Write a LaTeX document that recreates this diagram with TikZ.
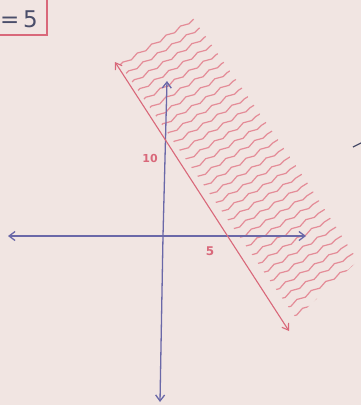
\documentclass[tikz,border=0pt]{standalone}
\usepackage{fontspec}
\setmainfont{DejaVu Sans}
\usetikzlibrary{arrows.meta,decorations.pathmorphing}
\definecolor{paper}{HTML}{F1E5E2}
\definecolor{pen}{HTML}{D9687A}
\definecolor{hatchc}{HTML}{E48C98}
\definecolor{axisc}{HTML}{6A68A8}
\definecolor{ink}{HTML}{4A4E6A}
\tikzset{
  axis/.style={draw=axisc, line width=1.3pt, -{Straight Barb[length=6pt,width=9pt]}},
  bound/.style={draw=pen, line width=1.1pt, {Straight Barb[length=6pt,width=8pt]}-{Straight Barb[length=6pt,width=8pt]}},
  hatch/.style={draw=hatchc, line width=1.2pt, line cap=round, decorate, decoration={snake, amplitude=1.3pt, segment length=17pt}},
  lab/.style={text=pen, font=\bfseries\fontsize{10}{10}\selectfont, inner sep=0pt},
}
\begin{document}
\begin{tikzpicture}[x=1pt,y=-1pt]
\useasboundingbox (0,0) rectangle (361,405);
\fill[paper] (0,0) rectangle (361,405);
% top-left boxed fragment
\draw[pen, line width=1.6pt] (-5,-5) -- (47,-5) -- (47,35) -- (-5,35);
\node[text=ink, font=\fontsize{23}{23}\selectfont, inner sep=0pt] (eq) at (19,19) {=\,5};
% hatched half-plane
\begin{scope}
  \clip (119,63) -- (190,14) -- (361,258) -- (296,318) -- cycle;
  \foreach \i in {0,...,30}{
    \draw[hatch] ({119+5.7*\i},{66+8.8*\i}) -- ++(80,-50);
  }
\end{scope}
% axes
\coordinate (O) at (163,236);
\coordinate (xl) at (8,236);
\coordinate (xr) at (306,236);
\coordinate (yt) at (167,81);
\coordinate (yb) at (160,402);
\draw[axis] (O) -- (xl);
\draw[axis] (O) -- (xr);
\draw[axis] (O) -- (yt);
\draw[axis] (O) -- (yb);
% boundary line
\coordinate (la) at (115,62);
\coordinate (lb) at (289,331);
\draw[bound] (la) -- (lb);
% labels
\node[lab, font=\bfseries\fontsize{11}{11}\selectfont] (ten) at (150,158) {10};
\node[lab, font=\bfseries\fontsize{12}{12}\selectfont] (five) at (210,251) {5};
% small mark at right edge
\draw[ink, line width=1.2pt] (353,147) -- (361,143);
\end{tikzpicture}
\end{document}
